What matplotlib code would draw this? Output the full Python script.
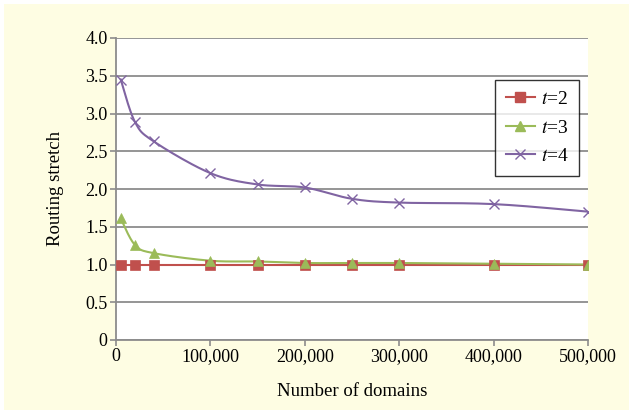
import numpy as np
import matplotlib
matplotlib.use("Agg")
import matplotlib.pyplot as plt
from matplotlib.patches import Rectangle

# data
domains = [5000, 20000, 40000, 100000, 150000, 200000, 250000, 300000, 400000, 500000]
stretch_t2 = [1.0, 1.0, 1.0, 1.0, 1.0, 1.0, 1.0, 1.0, 1.0, 1.0]
stretch_t3 = [1.61, 1.26, 1.15, 1.05, 1.04, 1.02, 1.02, 1.02, 1.01, 1.00]
stretch_t4 = [3.45, 2.89, 2.63, 2.21, 2.06, 2.02, 1.87, 1.82, 1.80, 1.70]
xticks = [0, 100000, 200000, 300000, 400000, 500000]
xtick_labels = ["0", "100,000", "200,000", "300,000", "400,000", "500,000"]
yticks = [0, 0.5, 1.0, 1.5, 2.0, 2.5, 3.0, 3.5, 4.0]
ytick_labels = ["0", "0.5", "1.0", "1.5", "2.0", "2.5", "3.0", "3.5", "4.0"]


def smooth(x, y, n=20):
    # Catmull-Rom style curve, like the spreadsheet "smoothed line" option
    x = np.asarray(x, float); y = np.asarray(y, float)
    px = np.concatenate([[x[0]], x, [x[-1]]])
    py = np.concatenate([[y[0]], y, [y[-1]]])
    xs, ys = [], []
    t = np.linspace(0, 1, n)
    for i in range(1, len(px) - 2):
        for p, out in ((px, xs), (py, ys)):
            p0, p1, p2, p3 = p[i - 1], p[i], p[i + 1], p[i + 2]
            out.extend(0.5 * ((2 * p1) + (-p0 + p2) * t
                              + (2 * p0 - 5 * p1 + 4 * p2 - p3) * t ** 2
                              + (-p0 + 3 * p1 - 3 * p2 + p3) * t ** 3))
    return xs, ys


plt.rcParams["font.family"] = "Liberation Serif"
plt.rcParams["mathtext.fontset"] = "stix"

fig = plt.figure(figsize=(6.31, 4.12), dpi=100)
fig.patch.set_facecolor("white")
fig.patches.append(Rectangle((4 / 631, 2 / 412), 625 / 631, 406 / 412,
                             transform=fig.transFigure, facecolor="#FEFDE3",
                             edgecolor="none", zorder=-1))

ax = fig.add_axes([116 / 631, 72 / 412, 472 / 631, 302 / 412])
ax.set_facecolor("white")

series = [
    (stretch_t2, "#C0504D", "s", 7.5, r"$t$=2"),
    (stretch_t3, "#9BBB59", "^", 7.5, r"$t$=3"),
    (stretch_t4, "#8064A2", "x", 7.5, r"$t$=4"),
]
for ys, col, mk, ms, lab in series:
    sx, sy = smooth(domains, ys)
    ax.plot(sx, sy, color=col, lw=1.5, zorder=3)
    ax.plot(domains, ys, ls="", marker=mk, color=col, markersize=ms,
            markeredgewidth=1.0 if mk == "x" else 0.5, zorder=4)
    ax.plot([], [], color=col, lw=1.5, marker=mk, markersize=ms, label=lab)

ax.set_xlim(0, 500000)
ax.set_ylim(0, 4.0)
ax.set_xticks(xticks)
ax.set_xticklabels(xtick_labels)
ax.set_yticks(yticks)
ax.set_yticklabels(ytick_labels)
ax.yaxis.grid(True, color="#8C8C8C", lw=1.3)
ax.set_axisbelow(True)
for s in ["top", "right"]:
    ax.spines[s].set_visible(False)
for s in ["left", "bottom"]:
    ax.spines[s].set_color("#8C8C8C")
    ax.spines[s].set_linewidth(1.3)
ax.tick_params(direction="out", length=4, width=1.2, color="#8C8C8C",
               labelsize=13, pad=2)

ax.set_xlabel("Number of domains", fontsize=13.5, labelpad=13)
ax.set_ylabel("Routing stretch", fontsize=13.5, labelpad=15)

leg = ax.legend(loc="upper left", bbox_to_anchor=(495 / 631, 1 - 80 / 412),
                bbox_transform=fig.transFigure, fontsize=14, frameon=True,
                fancybox=False, handlelength=1.5, handletextpad=0.3,
                labelspacing=0.55, borderpad=0.55, borderaxespad=0)
leg.get_frame().set_edgecolor("black")
leg.get_frame().set_linewidth(1.0)

fig.savefig("out.png", dpi=100)
